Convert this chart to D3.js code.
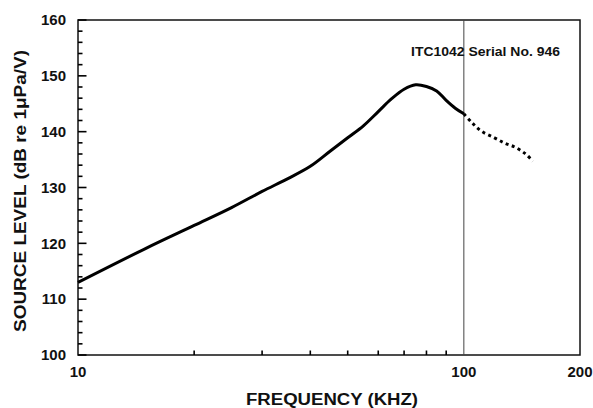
<!DOCTYPE html>
<html>
<head>
<meta charset="utf-8">
<script src="https://cdn.jsdelivr.net/npm/d3@7"></script>
<style>
  body { margin: 0; background: #fff; }
  text { font-family: "Liberation Sans", Arial, sans-serif; font-weight: bold; fill: #111; }
</style>
</head>
<body>
<svg id="chart"></svg>
<script>
const width = 593;
const height = 408;

// measured curve (kHz, dB re 1uPa/V)
const freqSolid = [10, 15, 20, 25, 30, 35, 40, 45, 50, 55, 60, 65, 70, 75, 80, 85, 90, 95, 100];
const levelSolid = [113.0, 119.1, 123.2, 126.4, 129.3, 131.6, 133.8, 136.5, 138.9, 141.1, 143.6, 145.9, 147.6, 148.4, 148.1, 147.3, 145.6, 144.2, 143.2];

const freqDotted = [100, 105, 111, 120, 128, 135, 144, 151];
const levelDotted = [143.2, 141.6, 140.1, 138.9, 137.9, 137.3, 136.1, 134.7];

const xTickLabels = [10, 100, 200];
const xMinorTicks = [20, 30, 40, 50, 60, 70, 80, 90];
const yTickLabels = [100, 110, 120, 130, 140, 150, 160];
const yMinorTicks = d3.range(100, 161, 2).filter(v => v % 10 !== 0);

const margin = {top: 20, right: 13, bottom: 53, left: 78};

const svg = d3.select("#chart")
    .attr("width", width)
    .attr("height", height);

const x = d3.scaleLog()
    .domain([10, 200])
    .range([margin.left, width - margin.right]);

const y = d3.scaleLinear()
    .domain([100, 160])
    .range([height - margin.bottom, margin.top]);

const x0 = x(10);
const y0 = y(100);

// frame
svg.append("rect")
    .attr("x", x0)
    .attr("y", y(160))
    .attr("width", x(200) - x0)
    .attr("height", y0 - y(160))
    .attr("fill", "none")
    .attr("stroke", "#111")
    .attr("stroke-width", 1.5);

// marker line at 100 kHz
svg.append("line")
    .attr("x1", x(100)).attr("x2", x(100))
    .attr("y1", y(160)).attr("y2", y0)
    .attr("stroke", "#444")
    .attr("stroke-width", 1);

// ticks point inward, drawn by hand
const ticks = svg.append("g")
    .attr("stroke", "#000")
    .attr("stroke-width", 1.6);

ticks.selectAll(".ymajor")
    .data(yTickLabels)
    .join("line")
    .attr("class", "ymajor")
    .attr("x1", x0).attr("x2", x0 + 8.5)
    .attr("y1", d => y(d)).attr("y2", d => y(d));

ticks.selectAll(".yminor")
    .data(yMinorTicks)
    .join("line")
    .attr("class", "yminor")
    .attr("x1", x0).attr("x2", x0 + 4.5)
    .attr("y1", d => y(d)).attr("y2", d => y(d));

ticks.selectAll(".xminor")
    .data(xMinorTicks)
    .join("line")
    .attr("class", "xminor")
    .attr("x1", d => x(d)).attr("x2", d => x(d))
    .attr("y1", y0).attr("y2", y0 - 4.5);

// tick labels
svg.append("g")
    .selectAll("text")
    .data(yTickLabels)
    .join("text")
    .attr("x", x0 - 12)
    .attr("y", d => y(d))
    .attr("dy", "0.35em")
    .attr("text-anchor", "end")
    .style("font-size", "15px")
    .text(d => d);

svg.append("g")
    .selectAll("text")
    .data(xTickLabels)
    .join("text")
    .attr("x", d => x(d))
    .attr("y", y0 + 22)
    .attr("text-anchor", "middle")
    .style("font-size", "15px")
    .text(d => d);

// curves
const line = d3.line()
    .x(d => x(d[0]))
    .y(d => y(d[1]))
    .curve(d3.curveCatmullRom.alpha(0.5));

svg.append("path")
    .datum(d3.zip(freqSolid, levelSolid))
    .attr("d", line)
    .attr("fill", "none")
    .attr("stroke", "#000")
    .attr("stroke-width", 3)
    .attr("stroke-linejoin", "round");

svg.append("path")
    .datum(d3.zip(freqDotted, levelDotted))
    .attr("d", line)
    .attr("fill", "none")
    .attr("stroke", "#000")
    .attr("stroke-width", 3)
    .attr("stroke-dasharray", "3,3.5");

// annotation
svg.append("text")
    .attr("x", 411)
    .attr("y", 55.5)
    .attr("textLength", 149)
    .attr("lengthAdjust", "spacingAndGlyphs")
    .style("font-size", "12px")
    .text("ITC1042 Serial No. 946");

// axis titles
svg.append("text")
    .attr("x", 332)
    .attr("y", 405)
    .attr("text-anchor", "middle")
    .attr("textLength", 172)
    .attr("lengthAdjust", "spacingAndGlyphs")
    .style("font-size", "16px")
    .text("FREQUENCY (KHZ)");

svg.append("text")
    .attr("transform", "translate(25.5,191) rotate(-90)")
    .attr("text-anchor", "middle")
    .attr("textLength", 282)
    .attr("lengthAdjust", "spacingAndGlyphs")
    .style("font-size", "16px")
    .text("SOURCE LEVEL (dB re 1\u03bcPa/V)");
</script>
</body>
</html>
